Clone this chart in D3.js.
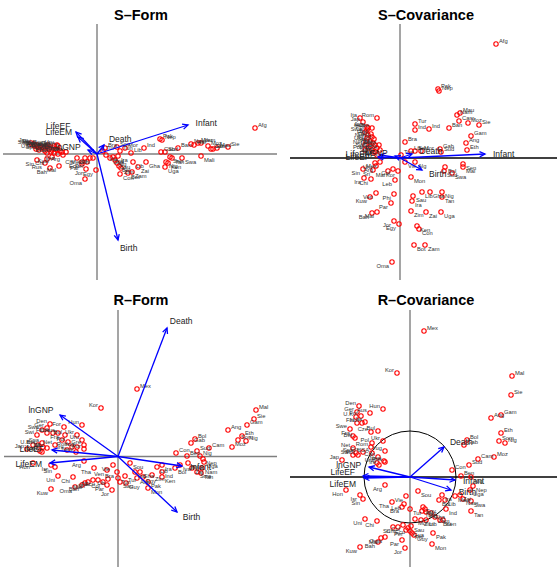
<!DOCTYPE html>
<html>
<head>
<meta charset="utf-8">
<script src="https://cdn.jsdelivr.net/npm/d3@7"></script>
<style>
  html, body { margin: 0; padding: 0; background: #fff; }
  svg { display: block; font-family: "Liberation Sans", Arial, Helvetica, sans-serif; }
</style>
</head>
<body>
<script>
// Biplot coordinates of the UN country data for four biplot variants.
// Each point: [country abbreviation, dim 1, dim 2]; each axis: [variable, dim 1, dim 2].

const sFormPoints = [
  ["Jap",-6.6,1.1],["Swe",-6.5,0.9],["Swi",-6.3,1.0],["Nor",-6.2,0.8],["Net",-6.0,0.9],["Fin",-5.9,0.7],
  ["Den",-5.7,0.8],["Can",-5.6,0.6],["USA",-6.1,0.5],["Fra",-5.4,0.7],["Ger",-5.3,0.6],["Aus",-5.1,0.8],
  ["Ita",-5.0,0.7],["Spa",-5.8,0.4],["Bel",-4.8,0.5],["U.K",-4.7,0.7],["Ire",-5.2,0.3],["Isr",-4.5,0.4],
  ["New",-4.4,0.6],["Gre",-4.3,0.8],["Por",-4.1,0.5],["Cze",-4.0,0.4],["Hun",-3.9,0.8],["Pol",-4.6,0.2],
  ["Bul",-5.0,0.1],["Rom",-4.9,0.9],["Yug",-3.7,0.3],["Ukr",-4.3,0.1],["Kor",-3.5,0.2],["Uru",-4.0,0.9],
  ["Arg",-3.4,-0.1],["Sin",-6.0,-0.6],["Chi",-5.0,-0.5],["Rus",-5.2,-0.9],["Bah",-4.7,-1.4],["Mal",-3.8,-1.2],
  ["Kuw",-4.5,-0.3],["Ven",-3.9,0.0],["Tha",-3.1,0.2],["Chi",-2.0,-0.4],["Mex",-1.2,-0.4],["Col",-0.7,-0.4],
  ["Ecu",-1.5,-0.8],["Per",-1.0,-0.8],["Par",-1.5,-1.0],["Jor",-1.1,-1.5],["Egy",-0.1,-1.6],["Oma",-1.2,-2.5],
  ["Phi",-0.4,-0.4],["Bra",0.8,0.6],["Tur",0.6,0.3],["Vie",0.9,-0.1],["Sou",2.0,0.7],["Mor",2.8,0.6],
  ["Tun",2.3,0.3],["Ira",2.1,-0.2],["Lib",3.4,0.1],["Ind",4.7,0.6],["Pak",6.3,1.5],["Nep",6.5,1.4],
  ["Gab",6.4,0.2],["Sud",6.8,0.2],["Ban",8.1,0.6],["Nam",9.4,1.0],["Hai",9.7,0.9],["Mau",10.1,1.1],
  ["Yem",10.4,1.1],["Moz",11.1,0.8],["Cam",11.4,0.5],["Eth",11.6,0.5],["Mad",12.0,0.6],["Sie",13.1,0.7],
  ["Mali",10.4,-0.2],["Swa",8.5,-0.4],["Tan",7.5,-0.4],["Nig",6.9,-0.8],["Ken",7.1,-0.9],["Sen",7.3,-0.3],
  ["Uga",6.8,-1.3],["Gha",4.9,-0.8],["Zai",4.1,-1.3],["Lib",3.6,-0.8],["Zam",3.5,-1.8],["Bot",3.1,-1.9],
  ["Con",2.3,-2.0],["Zim",2.4,-1.4],["Ind",1.6,-0.3],["Alg",1.8,-0.6],["Sau",2.0,-0.9],["Bol",2.2,-1.2],
  ["Gua",1.3,-0.4],["Afg",15.8,2.6]
];
const sFormAxes = [
  ["Infant",9.1,2.9],["Birth",2.1,-8.6],["Death",0.7,0.9],
  ["LifeEF",-2.1,2.2],["LifeEM",-1.9,1.7],["lnGNP",-0.9,0.4]
];

const sCovPoints = [
  ["Afg",9.6,11.4],["Pak",3.8,6.9],["Nep",3.9,6.7],["Nam",5.7,4.3],["Mau",6.0,4.5],["Cam",5.9,3.7],
  ["Moz",6.8,3.5],["Sie",7.9,3.3],["Ban",4.9,3.0],["Ind",2.9,2.9],["Tur",1.5,3.4],["Ind",1.5,2.8],
  ["Gam",7.1,2.2],["Ang",6.6,1.5],["Eth",6.7,0.8],["Bra",0.5,1.6],["Gab",4.0,0.9],["Sud",4.1,0.6],
  ["Lib",1.1,0.7],["Sou",1.5,0.7],["Mor",2.1,0.7],["Vie",0.5,-0.4],["Alg",1.5,-0.4],["Tun",0.1,0.3],
  ["Sen",6.3,-0.6],["Mal",6.3,-0.9],["Swa",5.2,-1.5],["Bol",4.5,-0.9],["Sud",4.4,-1.3],["Mon",1.1,-1.9],
  ["Lib",2.2,-3.4],["Gha",3.0,-3.4],["Nig",4.2,-3.4],["Tan",4.2,-3.9],["Sau",1.3,-3.8],["Ira",1.2,-4.3],
  ["Zim",1.1,-5.3],["Zai",2.6,-5.4],["Uga",4.1,-5.4],["Ken",1.7,-6.8],["Con",1.9,-7.1],["Bot",1.4,-8.7],
  ["Zam",2.5,-8.7],["Oma",-0.8,-10.4],["Jor",-0.6,-6.3],["Egy",-0.1,-6.6],["Par",-0.9,-4.5],["Phi",-0.6,-3.6],
  ["Mal",-2.3,-5.4],["Bah",-2.8,-5.5],["Ven",-2.4,-3.5],["Kuw",-3.0,-3.9],["Leb",-0.5,-2.2],["Ira",-3.6,-2.0],
  ["Chi",-2.9,-2.1],["Sin",-3.7,-1.1],["Sri",-2.7,-1.2],["Mal",-1.2,-1.3],["Col",-0.7,-1.1],["Kor",-0.2,-1.3],
  ["Arg",-2.4,-0.8],["Mex",-2.0,-0.4],["Uru",-2.5,-0.5],
  ["Rom",-2.3,4.0],["Ita",-4.0,4.0],["Jap",-3.7,3.6],["Aus",-3.3,3.1],["Hun",-3.2,3.0],["Cze",-2.8,3.0],
  ["Swe",-3.5,2.6],["Fin",-3.2,2.3],["Den",-2.8,2.1],["Nor",-3.3,2.0],["Ger",-3.0,1.6],["Fra",-2.7,1.5],
  ["Bel",-2.5,1.3],["Net",-3.5,1.3],["Swi",-3.2,1.0],["U.K",-2.8,0.8],["Can",-2.3,1.0],["USA",-2.0,0.8],
  ["Spa",-2.3,0.3],["Gre",-2.7,0.6],["Por",-3.5,0.8],["Pol",-3.3,2.8],["Bul",-2.9,2.4],["Ukr",-3.4,1.7],
  ["Yug",-2.6,1.9],["Isr",-3.0,1.2],["New",-2.1,1.3],["Ire",-2.5,0.6]
];
const sCovAxes = [
  ["Infant",8.5,0.4],["Death",1.2,0.4],["Birth",2.2,-1.2],
  ["LifeEM",-2.0,0.3],["LifeEF",-2.2,0.1],["lnGNP",-0.5,0.2]
];

const rFormPoints = [
  ["Mex",1.9,6.75],["Kor",-1.7,4.85],["Mal",13.8,4.65],["Sie",13.6,3.75],["Gam",12.9,3.15],["Ang",11.0,2.65],
  ["Eth",12.4,2.05],["Som",12.0,1.65],["Nig",12.8,1.55],["Moz",11.4,0.95],["Cam",9.1,0.85],["Bol",7.7,1.75],
  ["Gab",7.3,1.35],["Sud",7.9,0.55],["Nig",8.2,0.05],["Con",5.8,0.35],["Ben",6.9,0.05],["Nep",8.5,-0.25],
  ["Uga",8.6,-0.55],["Mau",7.0,-0.65],["Iva",6.2,-0.85],["Bol",5.7,-1.15],["Zai",7.4,-1.15],["Swa",7.9,-1.55],
  ["Nam",8.4,-1.15],["Tan",8.3,-1.65],["Ira",4.4,-0.85],["Lib",3.9,-1.05],["Ken",4.4,-2.05],["Ind",4.4,-1.55],
  ["Zim",3.4,-1.85],["Mon",3.0,-3.15],["Pak",3.0,-2.55],["Gha",2.2,-1.55],["Ind",1.7,-1.55],["Sou",1.2,-0.65],
  ["Egy",2.5,-2.05],["Alg",1.9,-2.15],["Tur",0.7,-1.95],["Guy",0.8,-2.65],["Sau",0.2,-2.55],["Tun",0.0,-2.15],
  ["Bra",-0.1,-1.55],["Vie",-0.5,-0.85],["Jor",-0.6,-3.35],["Par",-1.1,-2.85],["Lib",-1.0,-2.25],["Col",-1.5,-2.55],
  ["Ecu",-2.0,-2.35],["Per",-2.5,-2.35],["Sri",-3.0,-2.55],["Mal",-3.3,-2.65],["Bah",-3.6,-2.85],["Oma",-4.3,-3.05],
  ["Chi",-4.5,-2.05],["Uni",-6.0,-1.95],["Kuw",-6.7,-3.25],["Sin",-6.3,-1.05],["Isr",-6.7,-0.85],["Hon",-8.5,-0.65],
  ["Arg",-3.4,-0.45],["Tha",-2.4,-1.15],["Ven",-1.1,-1.35],
  ["Hun",-3.6,3.15],["For",-5.4,2.95],["Den",-6.8,3.25],["Ger",-7.1,2.85],["Swe",-7.6,2.65],["Swi",-8.1,2.15],
  ["Fin",-7.1,2.35],["Cze",-6.5,2.35],["Aus",-6.0,2.35],["Bul",-5.3,2.15],["Ukr",-4.1,2.15],["Net",-6.3,1.15],
  ["Fra",-5.6,1.65],["Pol",-5.0,1.45],["Rom",-4.6,0.95],["Yug",-4.1,0.95],["Uru",-3.6,1.65],["Gre",-3.4,1.15],
  ["Por",-3.4,0.75],["Spa",-7.6,1.35],["Ita",-7.5,0.95],["Bel",-8.0,1.15],["U.K",-8.5,1.15],["Jap",-9.1,0.75],
  ["Can",-7.8,0.55],["USA",-7.6,0.45],["Nor",-7.1,0.85],["Ire",-5.1,0.65],["New",-4.2,0.45]
];
const rFormAxes = [
  ["Death",4.9,12.85],["Birth",5.9,-5.55],["lnGNP",-5.8,4.15],
  ["LifeEM",-6.8,-0.65],["LifeEF",-6.6,0.65],["Infant",6.4,-0.95]
];

const rCovPoints = [
  ["Mex",1.4,14.6],["Kor",-1.3,10.4],["Mal",10.2,10.1],["Sie",10.1,8.2],["Gam",9.1,6.2],["Ang",8.1,5.9],
  ["Eth",9.1,4.4],["Som",8.9,3.6],["Nig",9.5,3.4],["Bol",5.7,3.7],["Gab",5.4,3.2],["Moz",8.4,2.0],
  ["Cam",6.8,1.8],["Sud",5.9,1.2],["Con",4.2,0.7],["Ben",5.1,0.1],["Nig",6.1,0.0],["Nep",6.3,-0.9],
  ["Uga",6.0,-1.3],["Swa",6.1,-2.4],["Nam",5.3,-2.2],["Tan",6.1,-3.4],["Zai",5.0,-1.8],["Mau",4.5,-1.9],
  ["Ira",3.2,-1.8],["Bol",2.9,-2.3],["Lib",3.5,-2.3],["Ind",3.6,-3.2],["Ken",3.3,-4.3],["Sou",0.8,-1.4],
  ["Vie",-0.4,-1.9],["Arg",-2.5,-0.8],["Tha",-1.8,-2.5],["Leb",-0.6,-2.7],["Bra",-0.8,-3.0],["Tur",0.0,-3.2],
  ["Egy",1.3,-3.0],["Alg",1.5,-3.2],["Tun",1.2,-3.4],["Ind",1.6,-3.5],["Gha",2.1,-3.6],["Mor",0.5,-4.2],
  ["Zim",1.1,-4.3],["Lib",1.6,-4.3],["Zam",2.5,-4.0],["Bot",3.0,-4.3],["Sau",0.1,-4.9],["Ecu",-0.2,-5.1],
  ["Per",-0.4,-5.3],["Gua",0.0,-5.4],["Phi",0.2,-5.6],["Col",-0.7,-4.8],["Chi",-1.2,-5.0],["Sri",-1.7,-5.0],
  ["Guy",0.4,-5.8],["Pak",2.3,-5.6],["Mon",2.2,-6.7],["Jor",-0.5,-7.1],["Par",-0.8,-6.3],["Uni",-4.5,-4.2],
  ["Chi",-3.3,-4.4],["Kuw",-5.0,-7.0],["Bah",-3.2,-6.5],["Mal",-2.9,-6.1],["Oma",-2.5,-6.0],["Hon",-6.4,-1.3],
  ["Isr",-5.0,-1.8],["Sin",-4.7,-2.2],
  ["Den",-5.1,7.1],["Hun",-2.7,6.8],["Ger",-5.3,6.5],["For",-4.9,6.1],["Aus",-4.0,6.4],["U.K",-5.4,6.0],
  ["Swe",-6.0,4.8],["Fin",-5.3,5.4],["Nor",-4.8,5.4],["Ita",-4.5,5.5],["Cze",-3.9,4.5],["Bul",-3.2,4.6],
  ["Fra",-5.7,4.1],["Bel",-5.5,3.9],["Ukr",-2.7,3.6],["Net",-5.7,2.9],["Pol",-3.8,3.4],["Rom",-3.9,3.0],
  ["Spa",-5.4,2.4],["Por",-5.2,2.2],["Gre",-4.7,2.5],["Yug",-2.5,2.6],["USA",-3.8,2.4],["Jap",-6.8,1.7],
  ["Can",-3.2,2.0],["New",-2.6,1.6],["Ire",-3.1,1.2],["Uru",-3.3,1.4],["Rus",-2.5,1.5],["Swi",-5.7,2.2]
];
const rCovAxes = [
  ["Death",3.4,3.0],["Infant",4.5,-0.3],["Birth",4.1,-1.3],
  ["LifeEF",-4.7,0.1],["LifeEM",-4.6,-0.1],["lnGNP",-4.1,1.0]
];

const W = 557, H = 567;
const svg = d3.select("body").append("svg").attr("width", W).attr("height", H);

const panels = [
  { title: "S\u2013Form", points: sFormPoints, axes: sFormAxes,
    xDomain: [-9.4, 18.0], yDomain: [-12.6, 13.0], rect: [3, 277, 24, 280],
    titleX: 141, titleY: 20, hColor: "#7f7f7f", nudge: {} },
  { title: "S\u2013Covariance", points: sCovPoints, axes: sCovAxes,
    xDomain: [-11.0, 15.7], yDomain: [-12.2, 13.4], rect: [290, 557, 24, 280],
    titleX: 426, titleY: 20, hColor: "#000", nudge: {} },
  { title: "R\u2013Form", points: rFormPoints, axes: rFormAxes,
    xDomain: [-11.4, 15.9], yDomain: [-11.05, 14.65], rect: [4, 277, 310, 567],
    titleX: 141, titleY: 305, hColor: "#7f7f7f", nudge: {} },
  { title: "R\u2013Covariance", points: rCovPoints, axes: rCovAxes,
    xDomain: [-12.0, 14.7], yDomain: [-9.0, 16.7], rect: [290, 557, 310, 567],
    titleX: 426, titleY: 305, hColor: "#000", circle: 4.6,
    nudge: { LifeEF: [0, -4], LifeEM: [0, 6] } }
];

function drawPanel(p) {
  const x = d3.scaleLinear().domain(p.xDomain).range([p.rect[0], p.rect[1]]);
  const y = d3.scaleLinear().domain(p.yDomain).range([p.rect[3], p.rect[2]]);
  const g = svg.append("g");

  g.append("text")
    .attr("x", p.titleX).attr("y", p.titleY)
    .attr("text-anchor", "middle")
    .attr("font-size", 14.5).attr("font-weight", "bold")
    .attr("fill", "#000")
    .text(p.title);

  // reference axes through the origin
  g.append("line")
    .attr("x1", x(p.xDomain[0])).attr("x2", x(p.xDomain[1]))
    .attr("y1", y(0)).attr("y2", y(0))
    .attr("stroke", p.hColor).attr("stroke-width", 1.4);
  g.append("line")
    .attr("x1", x(0)).attr("x2", x(0))
    .attr("y1", y(p.yDomain[0])).attr("y2", y(p.yDomain[1]))
    .attr("stroke", "#7f7f7f").attr("stroke-width", 1.4);

  if (p.circle) {
    g.append("circle")
      .attr("cx", x(0)).attr("cy", y(0))
      .attr("r", x(p.circle) - x(0))
      .attr("fill", "none").attr("stroke", "#000").attr("stroke-width", 1);
  }

  // country points
  g.append("g").selectAll("circle").data(p.points).join("circle")
    .attr("cx", d => x(d[1])).attr("cy", d => y(d[2]))
    .attr("r", 2.2)
    .attr("fill", "none").attr("stroke", "#ff0000").attr("stroke-width", 1.1);

  // country labels, set off away from the origin
  g.append("g").selectAll("text").data(p.points).join("text")
    .attr("x", d => x(d[1]) + (d[1] >= 0 ? 3 : -3))
    .attr("y", d => y(d[2]) + (d[2] > 0 ? -1.5 : 6))
    .attr("text-anchor", d => d[1] >= 0 ? "start" : "end")
    .attr("font-size", 5.8)
    .attr("fill", "#333")
    .text(d => d[0]);

  // variable axes as arrows
  const ox = x(0), oy = y(0);
  const ag = g.append("g");
  p.axes.forEach(a => {
    const tx = x(a[1]), ty = y(a[2]);
    const ang = Math.atan2(ty - oy, tx - ox);
    const L = 6, h = Math.PI / 7;
    ag.append("line")
      .attr("x1", ox).attr("y1", oy).attr("x2", tx).attr("y2", ty)
      .attr("stroke", "#0000ff").attr("stroke-width", 1.3);
    ag.append("path")
      .attr("d", `M${tx - L * Math.cos(ang - h)},${ty - L * Math.sin(ang - h)}L${tx},${ty}L${tx - L * Math.cos(ang + h)},${ty - L * Math.sin(ang + h)}`)
      .attr("fill", "none").attr("stroke", "#0000ff").attr("stroke-width", 1.3);
  });
  p.axes.forEach(a => {
    const tx = x(a[1]), ty = y(a[2]);
    const dx = tx - ox, dy = ty - oy, len = Math.hypot(dx, dy) || 1;
    const n = p.nudge[a[0]] || [0, 0];
    ag.append("text")
      .attr("x", tx + dx / len * 8 + n[0])
      .attr("y", ty + dy / len * 8 + n[1])
      .attr("dominant-baseline", "central")
      .attr("text-anchor", dx >= 0 ? "start" : "end")
      .attr("font-size", 8.5)
      .attr("fill", "#222")
      .text(a[0]);
  });
}

panels.forEach(drawPanel);
</script>
</body>
</html>
